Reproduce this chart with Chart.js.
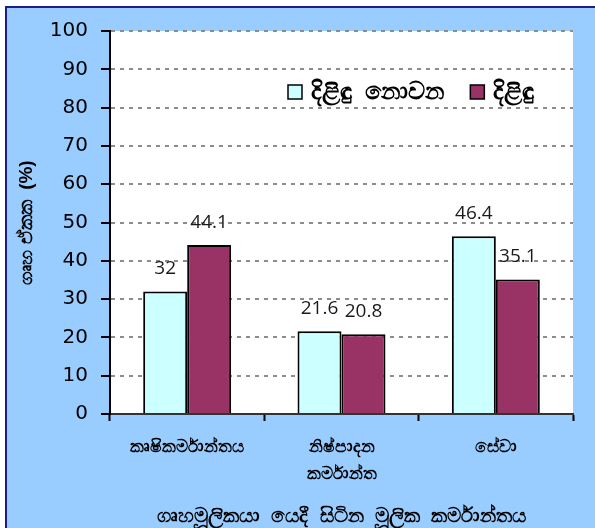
<!DOCTYPE html>
<html>
<head>
<meta charset="utf-8">
<script src="https://cdn.jsdelivr.net/npm/chart.js@4/dist/chart.umd.min.js"></script>
<style>
  html, body { margin: 0; padding: 0; background: #fff; overflow: hidden; }
  #frame {
    position: absolute; left: 5px; top: 6px; width: 620px; height: 560px;
    background: #99ccff; border-top: 2px solid #1c1c8a; border-left: 2px solid #1c1c8a;
  }
  #wrap { position: absolute; left: 0; top: 0; width: 595px; height: 528px; }
</style>
</head>
<body>
<div id="frame"></div>
<div id="wrap"><canvas id="myChart"></canvas></div>
<script>
    // categories and values
    const categories = ['කෘෂිකර්මාන්තය', ['නිෂ්පාදන', 'කර්මාන්ත'], 'සේවා'];
    const seriesNames = ['දිළිඳු  නොවන', 'දිළිඳු'];
    const notPoor = [32, 21.6, 46.4];
    const poor = [44.1, 20.8, 35.1];
    const yMin = 0, yMax = 100, yStep = 10;
    const xTitle = 'ගෘහමූලිකයා  යෙදී  සිටින  මූලික  කර්මාන්තය';
    const yTitle = 'ගෘහ ඒකක  (%)';

    const colors = ['#ccffff', '#993366'];

    // white plot area
    const plotBg = {
        id: 'plotBg',
        beforeDraw(chart) {
            const a = chart.chartArea, ctx = chart.ctx;
            ctx.save();
            ctx.fillStyle = '#ffffff';
            ctx.fillRect(a.left, a.top, a.right - a.left, a.bottom - a.top);
            ctx.restore();
        }
    };

    // values above the bars
    const valueLabels = {
        id: 'valueLabels',
        afterDatasetsDraw(chart) {
            const ctx = chart.ctx;
            ctx.save();
            ctx.font = '19px "Open Sans", sans-serif';
            ctx.fillStyle = '#1a1a1a';
            ctx.textAlign = 'center';
            ctx.textBaseline = 'middle';
            chart.data.datasets.forEach((ds, i) => {
                chart.getDatasetMeta(i).data.forEach((bar, j) => {
                    ctx.fillText(String(ds.data[j]), bar.x, bar.y - 23);
                });
            });
            ctx.restore();
        }
    };

    // legend inside the plot
    const innerLegend = {
        id: 'innerLegend',
        afterDraw(chart) {
            const ctx = chart.ctx;
            let x = 288;
            const cy = 92;
            ctx.save();
            ctx.font = 'bold 24px sans-serif';
            ctx.textBaseline = 'middle';
            ctx.textAlign = 'left';
            chart.data.datasets.forEach((ds) => {
                ctx.fillStyle = ds.backgroundColor;
                ctx.fillRect(x, cy - 7, 14, 14);
                ctx.strokeStyle = '#000';
                ctx.lineWidth = 1.5;
                ctx.strokeRect(x, cy - 7, 14, 14);
                ctx.fillStyle = '#000';
                ctx.fillText(ds.label, x + 23, cy);
                x += 23 + ctx.measureText(ds.label).width + 26;
            });
            ctx.restore();
        }
    };

    const data = {
        labels: categories,
        datasets: [{
            label: seriesNames[0],
            data: notPoor,
            backgroundColor: colors[0],
            borderColor: '#000',
            borderWidth: 2
        },
        {
            label: seriesNames[1],
            data: poor,
            backgroundColor: colors[1],
            borderColor: '#000',
            borderWidth: 2
        }]
    };

    const config = {
        type: 'bar',
        data: data,
        options: {
            responsive: true,
            maintainAspectRatio: false,
            animation: false,
            categoryPercentage: 0.57,
            barPercentage: 1,
            layout: { padding: { top: 31, right: 22, left: 0, bottom: 0 } },
            plugins: {
                legend: { display: false },
                tooltip: { enabled: false }
            },
            scales: {
                x: {
                    afterFit(scale) { scale.height = 114; },
                    grid: { drawOnChartArea: false, tickLength: 7, tickColor: '#000', tickWidth: 2 },
                    border: { color: '#333', width: 2 },
                    ticks: {
                        color: '#000',
                        padding: 13,
                        maxRotation: 0,
                        autoSkip: false,
                        font: { family: 'sans-serif', size: 17, weight: 'bold', lineHeight: 1.6 }
                    },
                    title: {
                        display: true,
                        text: xTitle,
                        color: '#000',
                        padding: { top: 0, bottom: 0 },
                        font: { family: 'sans-serif', size: 20, weight: 'bold', lineHeight: 1.2 }
                    }
                },
                y: {
                    min: yMin,
                    max: yMax,
                    afterFit(scale) { scale.width = 110; },
                    grid: {
                        color: (c) => c.tick && c.tick.value === 0 ? 'rgba(0,0,0,0)' : '#8c8c8c',
                        lineWidth: 2,
                        tickLength: 9,
                        tickColor: '#000',
                        tickWidth: 2,
                        tickBorderDash: []
                    },
                    border: { color: '#000', width: 2, dash: [4, 5] },
                    ticks: {
                        stepSize: yStep,
                        color: '#000',
                        padding: 13,
                        font: { family: '"DejaVu Sans", sans-serif', size: 20 }
                    },
                    title: {
                        display: true,
                        text: yTitle,
                        color: '#000',
                        padding: { top: 15, bottom: 0 },
                        font: { family: 'sans-serif', size: 19, weight: 'bold', lineHeight: 1.2 }
                    }
                }
            }
        },
        plugins: [plotBg, valueLabels, innerLegend]
    };

    const myChart = new Chart(
        document.getElementById('myChart'),
        config
    );
</script>
</body>
</html>
